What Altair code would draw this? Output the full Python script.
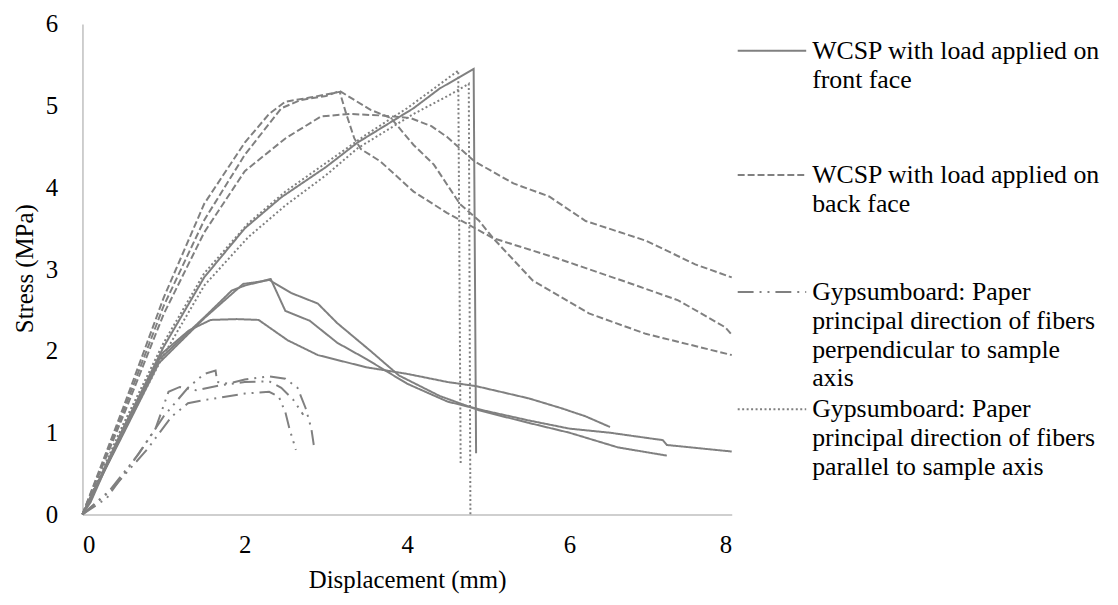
import altair as alt
import pandas as pd

GREY = "#808080"
AXIS_GREY = "#bfbfbf"
FONT = "Liberation Serif"
FS = 25
LEGEND_FS = 26

series_names = [
    "WCSP with load applied on front face",
    "WCSP with load applied on back face",
    "Gypsumboard: Paper principal direction of fibers perpendicular to sample axis",
    "Gypsumboard: Paper principal direction of fibers parallel to sample axis",
]
series_dash = [[1, 0], [7, 3], [16, 6, 2, 6, 2, 6], [2, 2.5]]

# --- WCSP, load on front face (solid) ---
front1_x = [0, 0.1, 0.5, 1.0, 1.5, 2.0, 2.45, 3.0, 3.39, 4.08, 4.4, 4.82, 4.85]
front1_y = [0, 0.15, 1.05, 2.05, 2.9, 3.5, 3.88, 4.25, 4.55, 4.97, 5.21, 5.45, 0.75]
front2_x = [0, 0.5, 0.94, 1.52, 1.84, 2.0, 2.2, 2.32, 2.5, 2.8, 3.14, 3.5, 4.0, 4.5, 5.0, 5.5, 6.0, 6.5, 7.0, 7.15, 7.2, 8.0]
front2_y = [0, 1.0, 1.89, 2.43, 2.74, 2.8, 2.85, 2.88, 2.49, 2.37, 2.1, 1.9, 1.6, 1.38, 1.26, 1.15, 1.05, 1.0, 0.93, 0.91, 0.85, 0.77]
front3_x = [0, 0.5, 0.94, 1.5, 1.98, 2.2, 2.3, 2.57, 2.9, 3.14, 3.55, 3.9, 4.4, 4.9, 5.5, 6.0, 6.6, 7.2]
front3_y = [0, 0.98, 1.85, 2.4, 2.82, 2.85, 2.87, 2.71, 2.58, 2.34, 2.0, 1.7, 1.45, 1.27, 1.12, 1.0, 0.82, 0.72]
front4_x = [0, 0.5, 0.98, 1.31, 1.58, 1.9, 2.17, 2.53, 2.9, 3.14, 3.5, 4.0, 4.5, 4.85, 5.5, 5.9, 6.2, 6.5]
front4_y = [0, 1.05, 1.97, 2.25, 2.38, 2.39, 2.38, 2.13, 1.95, 1.89, 1.8, 1.72, 1.62, 1.57, 1.42, 1.3, 1.2, 1.07]

# --- WCSP, load on back face (dashed) ---
back1_x = [0, 0.5, 1.0, 1.5, 2.0, 2.3, 2.5, 2.8, 3.17, 3.25, 3.35, 3.43, 3.67, 4.08, 4.49, 5.06, 5.83, 6.77, 7.34, 7.92, 8.0]
back1_y = [0, 1.3, 2.65, 3.8, 4.55, 4.9, 5.05, 5.1, 5.17, 4.9, 4.6, 4.47, 4.32, 3.95, 3.69, 3.38, 3.14, 2.82, 2.62, 2.29, 2.2]
back2_x = [0, 0.5, 1.0, 1.5, 2.0, 2.45, 2.69, 3.0, 3.17, 3.55, 3.8, 4.08, 4.33, 4.65, 4.89, 5.06, 5.55, 6.24, 6.94, 8.0]
back2_y = [0, 1.25, 2.55, 3.6, 4.4, 4.97, 5.07, 5.12, 5.18, 4.95, 4.85, 4.52, 4.28, 3.8, 3.59, 3.38, 2.86, 2.46, 2.21, 1.95]
back3_x = [0, 0.5, 1.0, 1.5, 2.0, 2.5, 2.94, 3.3, 3.7, 4.04, 4.3, 4.49, 4.83, 5.31, 5.75, 6.2, 6.94, 7.55, 8.0]
back3_y = [0, 1.2, 2.45, 3.45, 4.2, 4.6, 4.87, 4.9, 4.88, 4.85, 4.75, 4.62, 4.32, 4.05, 3.89, 3.59, 3.35, 3.06, 2.9]

# --- Gypsumboard, fibers perpendicular (long dash dot dot) ---
perp1_x = [0, 0.3, 0.7, 1.0, 1.3, 1.5, 1.64, 1.66, 1.8, 2.0, 2.3, 2.5, 2.65, 2.75, 2.82, 2.85]
perp1_y = [0, 0.25, 0.75, 1.2, 1.55, 1.72, 1.76, 1.62, 1.6, 1.65, 1.69, 1.66, 1.55, 1.3, 1.05, 0.85]
perp2_x = [0, 0.3, 0.66, 0.9, 1.06, 1.2, 1.4, 1.7, 2.0, 2.3, 2.45, 2.6, 2.72]
perp2_y = [0, 0.2, 0.7, 1.05, 1.5, 1.56, 1.52, 1.58, 1.62, 1.63, 1.55, 1.4, 1.22]
perp3_x = [0, 0.4, 0.8, 1.1, 1.3, 1.5, 1.7, 2.0, 2.3, 2.42, 2.5, 2.55, 2.63]
perp3_y = [0, 0.35, 0.8, 1.2, 1.36, 1.4, 1.43, 1.48, 1.5, 1.44, 1.25, 1.05, 0.79]

# --- Gypsumboard, fibers parallel (dotted) ---
para1_x = [0, 0.5, 1.0, 1.5, 2.04, 2.5, 3.0, 3.5, 4.0, 4.33, 4.63, 4.66]
para1_y = [0, 1.1, 2.1, 2.95, 3.56, 3.95, 4.3, 4.65, 4.97, 5.21, 5.43, 0.62]
para2_x = [0, 0.5, 1.0, 1.5, 2.04, 2.5, 3.0, 3.39, 4.08, 4.5, 4.76, 4.78]
para2_y = [0, 1.0, 1.95, 2.8, 3.39, 3.78, 4.15, 4.48, 4.9, 5.12, 5.27, 0.0]

curves = [
    ("front1", 0, front1_x, front1_y), ("front2", 0, front2_x, front2_y),
    ("front3", 0, front3_x, front3_y), ("front4", 0, front4_x, front4_y),
    ("back1", 1, back1_x, back1_y), ("back2", 1, back2_x, back2_y), ("back3", 1, back3_x, back3_y),
    ("perp1", 2, perp1_x, perp1_y), ("perp2", 2, perp2_x, perp2_y), ("perp3", 2, perp3_x, perp3_y),
    ("para1", 3, para1_x, para1_y), ("para2", 3, para2_x, para2_y),
]

x_ticks = [0, 2, 4, 6, 8]
y_ticks = [0, 1, 2, 3, 4, 5, 6]

legend_lines = [
    ["WCSP with load applied on", "front face"],
    ["WCSP with load applied on", "back face"],
    ["Gypsumboard: Paper", "principal direction of fibers", "perpendicular to sample", "axis"],
    ["Gypsumboard: Paper", "principal direction of fibers", "parallel to sample axis"],
]

# ---- layout (pixels) ----
W, H = 654, 494
LEFT, TOP = 75, 14
legend_first_line = [49 - 22, 174 - 22, 292 - 22, 410 - 22]
LINE_STEP = 29

rows = []
for cid, s, xs, ys in curves:
    for i, (xv, yv) in enumerate(zip(xs, ys)):
        rows.append({"curve": cid, "series": series_names[s], "order": i, "x": xv, "y": yv})
df = pd.DataFrame(rows)

sym_rows = [{"series": series_names[i], "py": legend_first_line[i]} for i in range(4)]
txt_rows = []
for i, lines_ in enumerate(legend_lines):
    for j, t in enumerate(lines_):
        txt_rows.append({"text": t, "py": legend_first_line[i] + j * LINE_STEP})

dash_scale = alt.Scale(domain=series_names, range=series_dash)
pix_scale = alt.Scale(domain=[0, H], range=[0, H])

lines = alt.Chart(df).mark_line(strokeWidth=2, color=GREY).encode(
    x=alt.X("x:Q", scale=alt.Scale(domain=[0, 8], nice=False, zero=False),
            axis=alt.Axis(values=x_ticks, title="Displacement (mm)", labelPadding=18,
                          titleX=327, titleY=66, titleBaseline="middle", titleAlign="center")),
    y=alt.Y("y:Q", scale=alt.Scale(domain=[0, 6], nice=False),
            axis=alt.Axis(values=y_ticks, title="Stress (MPa)", labelPadding=25,
                          titleX=-58, titleY=246, titleAngle=270, titleBaseline="middle", titleAlign="center")),
    strokeDash=alt.StrokeDash("series:N", scale=dash_scale, legend=None),
    detail="curve:N",
    order="order:Q",
)

sym = alt.Chart(pd.DataFrame(sym_rows)).mark_rule(strokeWidth=2, color=GREY).encode(
    x=alt.value(743 - 83), x2=alt.value(812 - 83),
    y=alt.Y("py:Q", scale=pix_scale, axis=None),
    strokeDash=alt.StrokeDash("series:N", scale=dash_scale, legend=None),
)

txt = alt.Chart(pd.DataFrame(txt_rows)).mark_text(
    align="left", baseline="middle", font=FONT, fontSize=LEGEND_FS, color="#000000"
).encode(
    x=alt.value(818 - 83),
    y=alt.Y("py:Q", scale=pix_scale, axis=None),
    text="text:N",
)

chart = alt.layer(lines, sym, txt).resolve_scale(y="independent").properties(
    width=W, height=H,
    autosize=alt.AutoSizeParams(type="none"),
    padding={"left": LEFT, "top": TOP, "right": 1110 - LEFT - W, "bottom": 80},
).configure_view(stroke=None).configure_axis(
    grid=False, ticks=False, domainColor=AXIS_GREY, domainWidth=1.5,
    labelFont=FONT, labelFontSize=FS, labelColor="#000000",
    titleFont=FONT, titleFontSize=FS, titleFontWeight="normal", titleColor="#000000",
)

chart.save("out.html", embed_options={"renderer": "svg", "actions": False})
